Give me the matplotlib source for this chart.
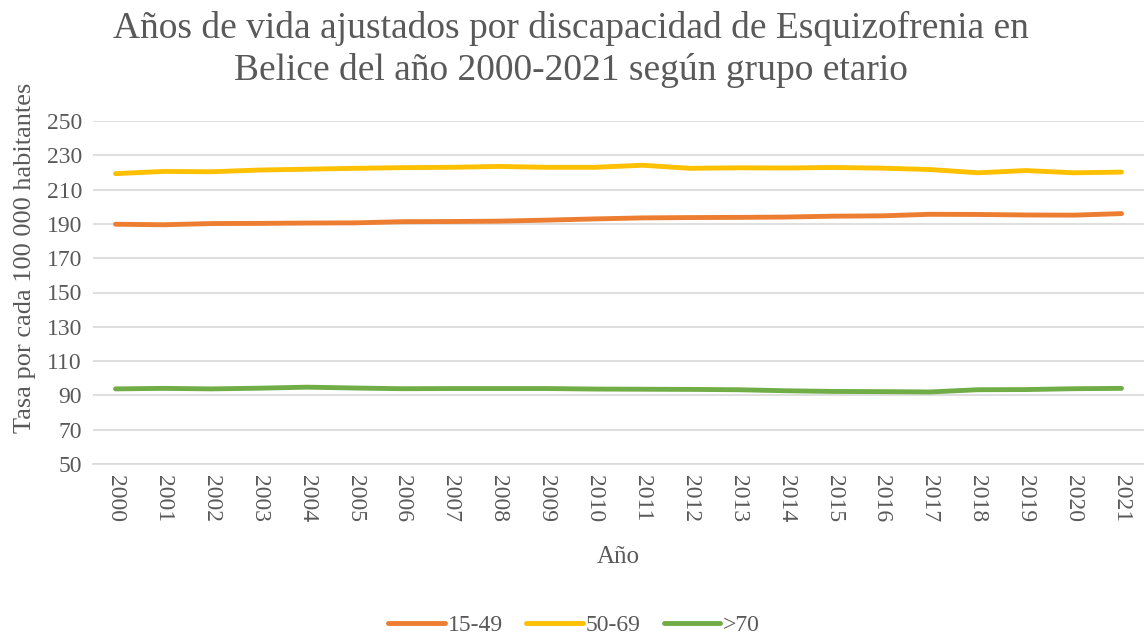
import matplotlib.pyplot as plt

years = list(range(2000, 2022))
tasa_15_49 = [189.8, 189.5, 190.2, 190.3, 190.5, 190.6, 191.3, 191.4, 191.6, 192.2, 192.9, 193.5,
              193.7, 193.8, 194.0, 194.5, 194.7, 195.6, 195.5, 195.2, 195.1, 196.0]
tasa_50_69 = [219.3, 220.6, 220.4, 221.4, 221.9, 222.4, 222.8, 223.0, 223.5, 223.0, 223.0, 224.2,
              222.4, 222.7, 222.6, 222.9, 222.5, 221.7, 219.8, 221.1, 219.8, 220.2]
tasa_70 = [93.8, 94.1, 93.8, 94.2, 94.8, 94.3, 93.9, 94.0, 94.0, 94.0, 93.7, 93.6,
           93.5, 93.3, 92.7, 92.3, 92.2, 92.0, 93.3, 93.4, 93.9, 94.1]
labels = ["15-49", "50-69", ">70"]
colors = ["#ED7D31", "#FFC000", "#70AD47"]
yticks = list(range(50, 251, 20))

plt.rcParams['font.family'] = ['Liberation Serif', 'DejaVu Serif']
gray = "#595959"

fig = plt.figure(figsize=(11.44, 6.37), dpi=100)
ax = fig.add_axes([93 / 1144, 173 / 637, 1051 / 1144, 343 / 637])

x = list(range(len(years)))
for serie, lab, col in zip([tasa_15_49, tasa_50_69, tasa_70], labels, colors):
    ax.plot(x, serie, color=col, linewidth=3.5, solid_capstyle='round', label=lab)

ax.set_xlim(-0.47, 21.47)
ax.set_ylim(50, 250)
ax.set_yticks(yticks)
ax.set_xticks(x)
ax.set_xticklabels([str(y) for y in years], rotation=270, fontsize=17, color=gray)
ax.tick_params(axis='y', labelsize=17, labelcolor=gray, length=0, pad=8)
ax.tick_params(axis='x', length=0, pad=8)
ax.grid(axis='y', color='#D9D9D9', linewidth=1.2)
ax.set_axisbelow(True)
for s in ax.spines.values():
    s.set_visible(False)
ax.spines['bottom'].set_visible(True)
ax.spines['bottom'].set_color('#D9D9D9')
ax.spines['bottom'].set_linewidth(1.2)

fig.text(571 / 1144, 1 - 28 / 637, "Años de vida ajustados por discapacidad de Esquizofrenia en",
         ha='center', va='center', fontsize=27, color=gray)
fig.text(571 / 1144, 1 - 70 / 637, "Belice del año 2000-2021 según grupo etario",
         ha='center', va='center', fontsize=27, color=gray)
fig.text(25 / 1144, 1 - 258 / 637, "Tasa por cada 100 000 habitantes", rotation=90,
         ha='center', va='center', fontsize=19, color=gray)
fig.text(618 / 1144, 1 - 557 / 637, "Año", ha='center', va='center', fontsize=18, color=gray)

fig.legend(loc='center', bbox_to_anchor=(574 / 1144, 1 - 625 / 637), ncol=3, frameon=False,
           fontsize=17, labelcolor=gray, handlelength=2.4, handletextpad=0.1, columnspacing=1.0)

fig.savefig("out.png", dpi=100)
